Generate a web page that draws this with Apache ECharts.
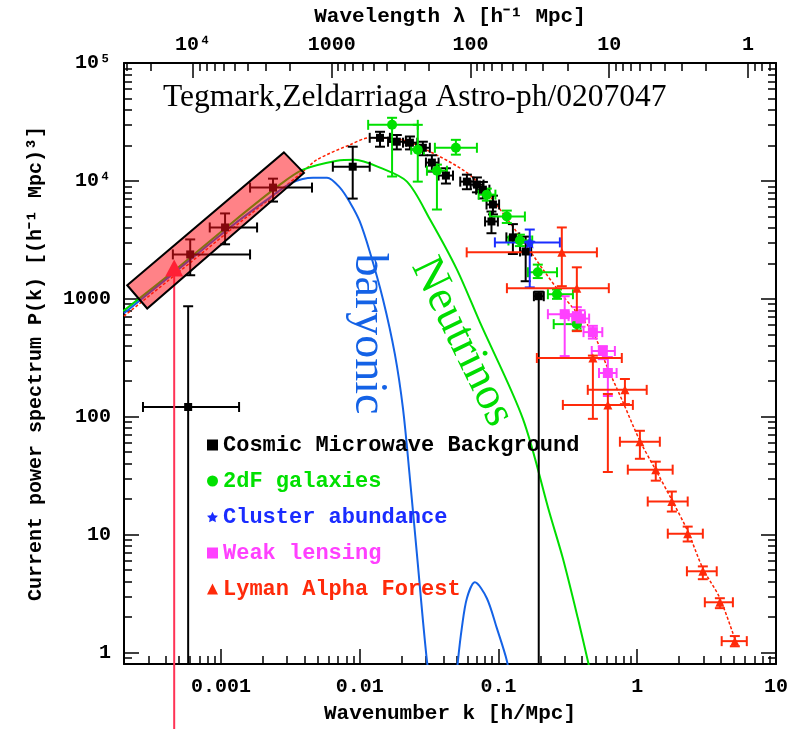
<!DOCTYPE html>
<html><head><meta charset="utf-8">
<script src="https://cdn.jsdelivr.net/npm/echarts@6/dist/echarts.min.js"></script>
<style>html,body{margin:0;padding:0;background:#fff}#c{width:802px;height:729px}</style>
</head><body><div id="c"></div>
<script>
// ---------- tick labels ----------
const xTickK = [0.001, 0.01, 0.1, 1, 10];
const xTickLabels = ['0.001', '0.01', '0.1', '1', '10'];
const yTickP = [1, 10, 100, 1000, 1e4, 1e5];
const yTickLabels = ['1', '10', '100', '1000', '10\u2074', '10\u2075'];
const lambdaTicks = [1e4, 1000, 100, 10, 1];
const lambdaLabels = ['10\u2074', '1000', '100', '10', '1'];

// ---------- data: [k, P, kLo, kHi, PLo, PHi] ----------
const cmb = [
  [5.8e-4, 121, 2.74e-4, 1.35e-3, 0.01, 865],
  [6.0e-4, 2380, 4.5e-4, 1.62e-3, 1585, 3190],
  [1.07e-3, 4030, 8.3e-4, 1.82e-3, 2900, 5300],
  [2.37e-3, 8780, 1.62e-3, 4.53e-3, 6680, 10450],
  [8.9e-3, 13200, 6.4e-3, 1.18e-2, 7080, 19500],
  [0.0140, 23200, 0.0118, 0.0165, 19500, 26100],
  [0.0185, 21500, 0.0160, 0.0215, 18500, 24500],
  [0.0230, 21100, 0.0205, 0.0260, 18500, 23800],
  [0.0285, 19100, 0.0255, 0.0320, 16500, 21500],
  [0.0331, 14300, 0.0300, 0.0370, 12000, 16500],
  [0.0418, 11100, 0.0370, 0.0470, 9500, 12800],
  [0.0592, 9860, 0.0530, 0.0660, 8500, 11300],
  [0.0699, 9300, 0.0630, 0.0780, 8000, 10700],
  [0.0772, 8430, 0.0690, 0.0860, 7100, 9800],
  [0.0912, 6310, 0.0820, 0.1010, 5200, 7500],
  [0.089, 4530, 0.080, 0.099, 3600, 5500],
  [0.127, 3320, 0.114, 0.141, 2400, 4300],
  [0.157, 2520, 0.143, 0.172, 1410, 3370],
  [0.195, 1052, 0.180, 0.212, 0.01, 1150]
];
const twodf = [
  [0.0171, 29900, 0.0115, 0.0262, 10900, 34300],
  [0.0262, 18400, 0.0235, 0.0290, 9860, 29900],
  [0.036, 12200, 0.0305, 0.0425, 5720, 13750],
  [0.0493, 19100, 0.0348, 0.0699, 16700, 22300],
  [0.0824, 7650, 0.072, 0.095, 6800, 8600],
  [0.1148, 4990, 0.0867, 0.155, 4400, 5600],
  [0.1426, 3125, 0.118, 0.175, 2800, 3500],
  [0.192, 1680, 0.163, 0.264, 1500, 1950],
  [0.264, 1094, 0.227, 0.344, 1000, 1200],
  [0.367, 610, 0.25, 0.39, 540, 690]
];
const cluster = [
  [0.168, 3010, 0.0942, 0.277, 1250, 3870]
];
const lensing = [
  [0.30, 741, 0.227, 0.387, 327, 1052],
  [0.367, 713, 0.32, 0.42, 600, 850],
  [0.39, 680, 0.34, 0.45, 580, 800],
  [0.479, 522, 0.41, 0.56, 460, 590],
  [0.565, 361, 0.47, 0.69, 308, 397],
  [0.614, 235, 0.53, 0.71, 150, 321]
];
const lyman = [
  [0.286, 2478, 0.059, 0.512, 1280, 4030],
  [0.367, 1231, 0.115, 0.624, 532, 1850],
  [0.479, 315, 0.189, 0.774, 96, 330],
  [0.614, 126, 0.291, 0.93, 34, 156],
  [0.815, 169, 0.44, 1.17, 128, 209],
  [1.045, 61.4, 0.75, 1.455, 44, 76],
  [1.36, 35.6, 0.855, 1.80, 28.7, 41.6],
  [1.775, 19.1, 1.19, 2.31, 15.7, 23.2],
  [2.31, 10.2, 1.66, 2.97, 8.75, 11.7],
  [2.97, 4.89, 2.28, 3.74, 4.19, 5.38],
  [3.94, 2.67, 3.07, 4.89, 2.38, 2.89],
  [5.05, 1.25, 4.06, 6.16, 1.13, 1.38]
];

// ---------- model curves ----------
const totalK = [2.0e-4, 4.74e-4, 1.16e-3, 2.66e-3, 3.90e-3, 4.92e-3, 8.50e-3, 1.18e-2, 1.85e-2, 3.21e-2, 5.92e-2, 8.24e-2, 0.136, 0.209, 0.277, 0.386, 0.479, 0.604, 0.787, 1.045, 1.38, 1.80, 2.32, 2.97, 3.94, 5.22];
const totalP = [713, 1615, 3800, 8280, 11990, 15140, 20280, 23230, 22800, 17700, 11750, 7960, 3655, 1778, 1137, 713, 522, 269, 134, 62.5, 34.2, 19.1, 10.6, 5.18, 2.89, 1.16];
const nuK = [1.97e-4, 4.74e-4, 1.16e-3, 2.66e-3, 3.90e-3, 6.86e-3, 9.23e-3, 1.40e-2, 2.19e-2, 3.21e-2, 5.01e-2, 7.34e-2, 0.150, 0.234, 0.291, 0.373, 0.448];
const nuP = [785, 1778, 4275, 9300, 12470, 14850, 15140, 12950, 9860, 4710, 1778, 634, 96, 15.1, 6.3, 1.96, 0.78];
const baryK = [2.0e-4, 4.74e-4, 1.16e-3, 2.25e-3, 3.25e-3, 4.61e-3, 5.81e-3, 7.20e-3, 8.50e-3, 1.0e-2, 1.18e-2, 1.47e-2, 1.79e-2, 2.05e-2, 2.30e-2, 2.58e-2, 3.05e-2, 3.3e-2];
const baryP = [755, 1710, 4030, 7220, 9680, 10660, 10660, 8770, 6560, 4530, 2520, 993, 341, 117, 29.9, 6.93, 0.85, 0.5];
const bary2K = [4.9e-2, 5.10e-2, 5.44e-2, 5.92e-2, 6.76e-2, 8.24e-2, 9.73e-2, 0.115, 0.12];
const bary2P = [0.5, 0.85, 1.61, 2.89, 3.94, 2.89, 1.61, 0.85, 0.6];

// ---------- annotations ----------
const boxK = [2.11e-4, 2.84e-3, 3.96e-3, 2.94e-4];
const boxP = [1303, 17450, 11690, 828];
const pointerK = [4.6e-4];
const pointerP = [2160];

// ---------- helpers ----------
const L = Math.log10;
const XMIN = L(2e-4), XMAX = 1, YMIN = -0.097, YMAX = 5;
const LOG2PI = L(2 * Math.PI);
const FONT = 'Liberation Mono';

function minorLogs(e0, e1, lo, hi, map) {
  const out = [];
  for (let e = e0; e <= e1; e++) for (let m = 2; m <= 9; m++) {
    const v = map(L(m * Math.pow(10, e)));
    if (v > lo + 1e-6 && v < hi - 1e-6) out.push(v);
  }
  return out;
}
const xMinor = minorLogs(-4, 0, XMIN, XMAX, v => v);
const yMinor = minorLogs(-1, 4, YMIN, YMAX, v => v);
const lamMinor = minorLogs(-1, 4, XMIN, XMAX, v => LOG2PI - v);

const axLine = {show: true, onZero: false, lineStyle: {color: '#000', width: 2}};
const noLine = {show: false, onZero: false};
function tick(len, vals) {
  return {show: true, inside: true, length: len, customValues: vals, lineStyle: {color: '#000', width: 1.5}};
}
const lblStyle = {fontFamily: FONT, fontWeight: 'bold', fontSize: 20, color: '#000'};
const nameStyle = {fontFamily: FONT, fontWeight: 'bold', fontSize: 21, color: '#000'};

const xAxes = [
  {type: 'value', position: 'bottom', min: XMIN, max: XMAX, splitLine: {show: false}, axisLine: axLine,
   axisTick: tick(15, xTickK.map(L)),
   axisLabel: Object.assign({show: true, margin: 13, customValues: xTickK.map(L),
     formatter: v => xTickLabels[xTickK.findIndex(k => Math.abs(L(k) - v) < 1e-6)]}, lblStyle),
   name: 'Wavenumber k [h/Mpc]', nameLocation: 'middle', nameGap: 39, nameTextStyle: nameStyle},
  {type: 'value', position: 'bottom', min: XMIN, max: XMAX, splitLine: {show: false}, axisLine: noLine,
   axisTick: tick(8, xMinor), axisLabel: {show: false}},
  {type: 'value', position: 'top', min: XMIN, max: XMAX, splitLine: {show: false}, axisLine: axLine,
   axisTick: tick(15, lambdaTicks.map(l => LOG2PI - L(l))),
   axisLabel: Object.assign({show: true, margin: 8, customValues: lambdaTicks.map(l => LOG2PI - L(l)),
     formatter: v => lambdaLabels[lambdaTicks.findIndex(l => Math.abs(LOG2PI - L(l) - v) < 1e-6)]}, lblStyle),
   name: 'Wavelength \u03bb [h\u207b\u00b9 Mpc]', nameLocation: 'middle', nameGap: 36, nameTextStyle: nameStyle},
  {type: 'value', position: 'top', min: XMIN, max: XMAX, splitLine: {show: false}, axisLine: noLine,
   axisTick: tick(8, lamMinor), axisLabel: {show: false}}
];
const yAxes = [
  {type: 'value', position: 'left', min: YMIN, max: YMAX, splitLine: {show: false}, axisLine: axLine,
   axisTick: tick(15, yTickP.map(L)),
   axisLabel: Object.assign({show: true, margin: 13, customValues: yTickP.map(L),
     formatter: v => yTickLabels[yTickP.findIndex(p => Math.abs(L(p) - v) < 1e-6)]}, lblStyle),
   name: 'Current power spectrum P(k) [(h\u207b\u00b9 Mpc)\u00b3]', nameLocation: 'middle', nameGap: 78,
   nameTextStyle: Object.assign({}, nameStyle, {fontSize: 20})},
  {type: 'value', position: 'left', min: YMIN, max: YMAX, splitLine: {show: false}, axisLine: noLine,
   axisTick: tick(8, yMinor), axisLabel: {show: false}},
  {type: 'value', position: 'right', min: YMIN, max: YMAX, splitLine: {show: false}, axisLine: axLine,
   axisTick: tick(15, yTickP.map(L)), axisLabel: {show: false}},
  {type: 'value', position: 'right', min: YMIN, max: YMAX, splitLine: {show: false}, axisLine: noLine,
   axisTick: tick(8, yMinor), axisLabel: {show: false}}
];

function curve(ks, ps, color, width, type) {
  return {type: 'line', silent: true, showSymbol: false, smooth: 0.3, z: 2,
    data: ks.map((k, i) => [L(k), L(ps[i])]),
    lineStyle: {color: color, width: width, type: type || 'solid'}};
}
function errBars(rows, color, z) {
  return {type: 'custom', silent: true, clip: true, z: z,
    data: rows.map(r => r.map(L)),
    encode: {x: [0, 2, 3], y: [1, 4, 5]},
    renderItem: function (params, api) {
      const xl = api.coord([api.value(2), api.value(1)]);
      const xh = api.coord([api.value(3), api.value(1)]);
      const yl = api.coord([api.value(0), api.value(4)]);
      const yh = api.coord([api.value(0), api.value(5)]);
      const c = 5, st = {stroke: color, lineWidth: 2};
      return {type: 'group', children: [
        {type: 'line', shape: {x1: xl[0], y1: xl[1], x2: xh[0], y2: xh[1]}, style: st},
        {type: 'line', shape: {x1: xl[0], y1: xl[1] - c, x2: xl[0], y2: xl[1] + c}, style: st},
        {type: 'line', shape: {x1: xh[0], y1: xh[1] - c, x2: xh[0], y2: xh[1] + c}, style: st},
        {type: 'line', shape: {x1: yl[0], y1: yl[1], x2: yh[0], y2: yh[1]}, style: st},
        {type: 'line', shape: {x1: yl[0] - c, y1: yl[1], x2: yl[0] + c, y2: yl[1]}, style: st},
        {type: 'line', shape: {x1: yh[0] - c, y1: yh[1], x2: yh[0] + c, y2: yh[1]}, style: st}
      ]};
    }};
}
function points(name, rows, color, symbol, size, z) {
  return {type: 'scatter', name: name, z: z, silent: true, symbol: symbol, symbolSize: size,
    data: rows.map(r => [L(r[0]), L(r[1])]), itemStyle: {color: color, opacity: 1}};
}

const STAR = 'path://M0,-10L2.9,-4L9.5,-3.1L4.7,1.5L5.9,8.1L0,5L-5.9,8.1L-4.7,1.5L-9.5,-3.1L-2.9,-4Z';
const C_CMB = '#000000', C_2DF = '#00e000', C_CL = '#1a2cff', C_WL = '#ff40ff', C_LY = '#ff2a0a';

const series = [
  curve(totalK, totalP, '#ff2000', 1.5, [3, 2]),
  curve(nuK, nuP, '#00dd00', 2),
  curve(baryK, baryP, '#1462e6', 2),
  curve(bary2K, bary2P, '#1462e6', 2),
  errBars(cmb, C_CMB, 3), errBars(twodf, C_2DF, 3), errBars(cluster, C_CL, 3),
  errBars(lensing, C_WL, 3), errBars(lyman, C_LY, 3),
  points('Cosmic Microwave Background', cmb, C_CMB, 'rect', 8, 4),
  points('2dF galaxies', twodf, C_2DF, 'circle', 10, 4),
  points('Cluster abundance', cluster, C_CL, STAR, 12, 4),
  points('Weak lensing', lensing, C_WL, 'rect', 10, 4),
  points('Lyman Alpha Forest', lyman, C_LY, 'triangle', 9, 4),
  {type: 'custom', silent: true, clip: false, z: 5,
   data: pointerK.map((k, i) => [L(k), L(pointerP[i])]),
   renderItem: function (params, api) {
     const p = api.coord([api.value(0), api.value(1)]);
     return {type: 'group', children: [
       {type: 'polygon', shape: {points: [[p[0], p[1]], [p[0] + 9, p[1] + 17], [p[0] - 9, p[1] + 17]]}, style: {fill: '#ff3355'}},
       {type: 'line', shape: {x1: p[0], y1: p[1] + 16, x2: p[0], y2: api.getHeight()}, style: {stroke: '#ff3355', lineWidth: 2}}
     ]};
   }},
  {type: 'custom', silent: true, clip: false, z: 6, data: [[L(boxK[0]), L(boxP[0])]],
   renderItem: function (params, api) {
     const pts = boxK.map((k, i) => api.coord([L(k), L(boxP[i])]));
     return {type: 'polygon', shape: {points: pts}, style: {fill: 'rgba(255,15,25,0.52)', stroke: '#000', lineWidth: 2}};
   }}
];

const chart = echarts.init(document.getElementById('c'), null, {renderer: 'canvas'});
chart.setOption({
  animation: false,
  backgroundColor: '#fff',
  grid: {left: 124, right: 26, top: 63, bottom: 63, containLabel: false},
  xAxis: xAxes,
  yAxis: yAxes,
  legend: {
    orient: 'vertical', left: 207, top: 434, padding: 0, itemGap: 14, itemWidth: 11, itemHeight: 11,
    selectedMode: false,
    textStyle: {fontFamily: FONT, fontWeight: 'bold', fontSize: 22, lineHeight: 21},
    data: [
      {name: 'Cosmic Microwave Background', icon: 'rect', textStyle: {color: C_CMB}},
      {name: '2dF galaxies', icon: 'circle', textStyle: {color: C_2DF}},
      {name: 'Cluster abundance', icon: STAR, textStyle: {color: C_CL}},
      {name: 'Weak lensing', icon: 'rect', textStyle: {color: C_WL}},
      {name: 'Lyman Alpha Forest', icon: 'triangle', textStyle: {color: C_LY}}
    ]
  },
  graphic: [
    {type: 'text', left: 163, top: 82, z: 10,
     style: {text: 'Tegmark,Zeldarriaga Astro-ph/0207047', font: '31.5px "Liberation Serif"', fill: '#000'}},
    {type: 'text', x: 368, y: 334, rotation: -Math.PI / 2, z: 10,
     style: {text: 'baryonic', x: 0, y: 0, textAlign: 'center', textVerticalAlign: 'middle', align: 'center', verticalAlign: 'middle',
       font: '46px "Liberation Serif"', fill: '#1462e6'}},
    {type: 'text', x: 462, y: 342, rotation: -64 * Math.PI / 180, z: 10,
     style: {text: 'Neutrinos', x: 0, y: 0, textAlign: 'center', textVerticalAlign: 'middle', align: 'center', verticalAlign: 'middle',
       font: '46px "Liberation Serif"', fill: '#00dd00'}}
  ],
  series: series.map(s => Object.assign({xAxisIndex: 0, yAxisIndex: 0}, s))
});
</script>
</body></html>
